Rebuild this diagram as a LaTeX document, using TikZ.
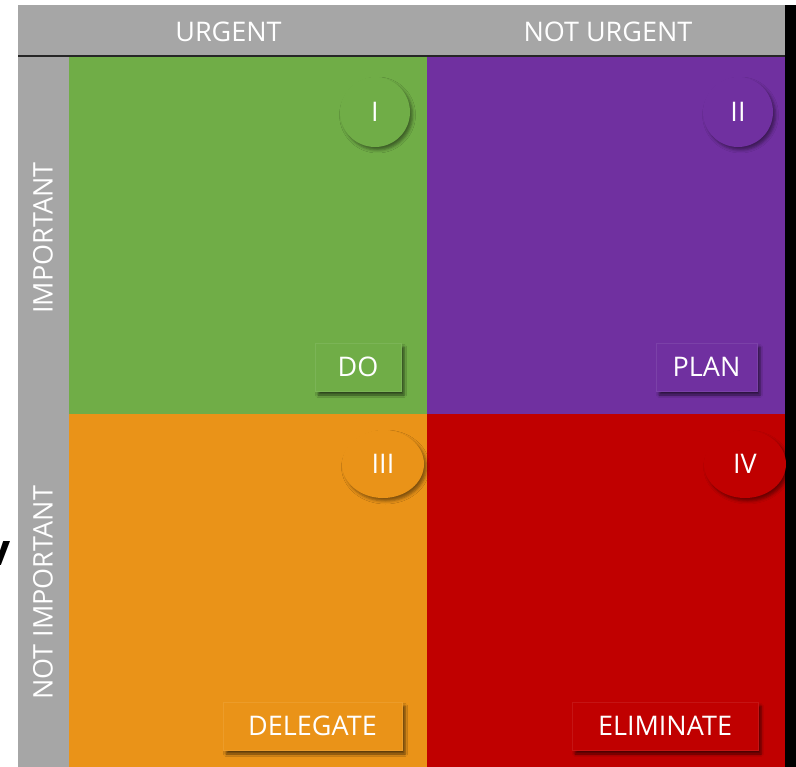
\documentclass[tikz,border=0pt]{standalone}
\usepackage{fontspec}
\setmainfont{Open Sans}
\usetikzlibrary{shapes.geometric,shadows.blur}

\definecolor{dogreen}{HTML}{70AD47}
\definecolor{planpurple}{HTML}{7030A0}
\definecolor{delegorange}{HTML}{EA9318}
\definecolor{elimred}{HTML}{C00000}
\definecolor{headgray}{HTML}{A6A6A6}

\begin{document}
\begin{tikzpicture}[x=1pt,y=-1pt]
\def\linecol{black!85}

\tikzset{every node/.style={inner sep=0pt, outer sep=0pt, text=white, font=\fontsize{27}{32}\selectfont}}
\tikzset{quad/.style={rectangle, minimum width=358pt}}
\tikzset{badge/.style={circle, minimum size=70pt, blur shadow={shadow xshift=2.5pt, shadow yshift=-3pt, shadow blur radius=3pt, shadow opacity=45}}}
\tikzset{wbadge/.style={badge, ellipse, minimum width=82pt, minimum height=68pt}}
\tikzset{tag/.style={rectangle, minimum height=48pt, line width=.5pt, blur shadow={shadow xshift=3pt, shadow yshift=-4pt, shadow blur radius=2.5pt, shadow opacity=60}}}

\useasboundingbox (0,0) rectangle (796,767);
%%%%%% axes
\node(header)at(401.5,30.5)[fill=headgray,minimum width=767pt,minimum height=51pt]{};
\node(side)at(43.5,411.5)[fill=headgray,minimum width=51pt,minimum height=711pt]{};
\fill[black] (785,5) rectangle (796,767);
\node(urgent)at(228.5,32){URGENT};
\node(noturgent)at(608,32){NOT URGENT};
\node(important)at(43,238)[rotate=90]{IMPORTANT};
\node(notimportant)at(43,593)[rotate=90]{NOT IMPORTANT};
\node(stray)at(11,553)[anchor=east,text=black,font=\fontsize{44}{44}\selectfont\bfseries]{v};

%%%%%% quadrants
\node(q1)at(248,235)[quad,fill=dogreen,minimum height=358pt]{};
\node(q2)at(606,235)[quad,fill=planpurple,minimum height=358pt]{};
\node(q3)at(248,590.5)[quad,fill=delegorange,minimum height=353pt]{};
\node(q4)at(606,590.5)[quad,fill=elimred,minimum height=353pt]{};
\draw[\linecol,line width=1.2pt] (header.south west) -- (header.south east);

%%%%%% numbers
\node(one)at(375,112)[badge,fill=dogreen]{I};
\node(two)at(738,112)[badge,fill=planpurple]{II};
\node(three)at(383,464)[wbadge,fill=delegorange]{III};
\node(four)at(745,464)[wbadge,fill=elimred]{IV};

%%%%%% actions
\node(do)at(358,367)[tag,fill=dogreen,draw=dogreen!92!white,minimum width=86pt]{DO};
\node(plan)at(706.5,367)[tag,fill=planpurple,draw=planpurple!92!white,minimum width=101pt]{PLAN};
\node(delegate)at(312.5,726)[tag,fill=delegorange,draw=delegorange!92!white,minimum width=179pt]{DELEGATE};
\node(eliminate)at(665,726)[tag,fill=elimred,draw=elimred!92!white,minimum width=186pt]{ELIMINATE};
\end{tikzpicture}
\end{document}
